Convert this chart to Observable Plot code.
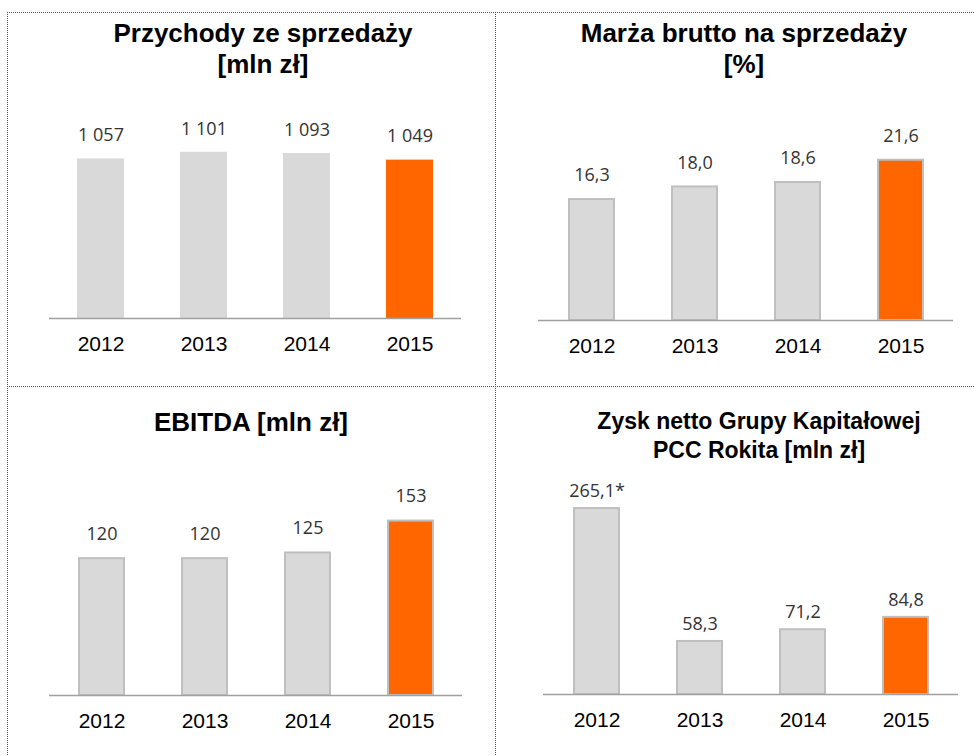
<!DOCTYPE html>
<html><head><meta charset="utf-8">
<script src="https://cdn.jsdelivr.net/npm/d3@7"></script>
<script src="https://cdn.jsdelivr.net/npm/@observablehq/plot@0.6"></script>
<style>
html,body{margin:0;padding:0;background:#fff;}
#root{position:relative;width:974px;height:755px;overflow:hidden;font-family:"Liberation Sans",Arial,sans-serif;}
.rule{position:absolute;}
.title{position:absolute;width:500px;text-align:center;font-weight:bold;color:#000;white-space:nowrap;}
.panel{position:absolute;}
</style></head><body><div id="root"></div>
<script>
// ---- data ----
const years = ["2012", "2013", "2014", "2015"];
const revenue = [1057, 1101, 1093, 1049];           // Przychody ze sprzedaży [mln zł]
const grossMargin = [16.3, 18.0, 18.6, 21.6];       // Marża brutto na sprzedaży [%]
const ebitda = [120, 120, 125, 153];                // EBITDA [mln zł]
const netProfit = [265.1, 58.3, 71.2, 84.8];        // Zysk netto GK PCC Rokita [mln zł]
const netProfitNotes = ["*", "", "", ""];
const highlightYear = "2015";
const titleRevenue = ["Przychody ze sprzedaży", "[mln zł]"];
const titleMargin = ["Marża brutto na sprzedaży", "[%]"];
const titleEbitda = ["EBITDA [mln zł]"];
const titleProfit = ["Zysk netto Grupy Kapitałowej", "PCC Rokita [mln zł]"];

const GRAY = "#d9d9d9", ORANGE = "#ff6600";
const pl = d3.formatLocale({decimal: ",", thousands: "\u00a0", grouping: [3], currency: ["", " zł"]});
const fmtInt = pl.format(",d");
const fmt1 = pl.format(".1f");

const root = document.getElementById("root");

function addRule(style) {
  const d = document.createElement("div");
  d.className = "rule";
  Object.assign(d.style, style);
  root.appendChild(d);
}
const dotted = "1px dotted #505050";
addRule({left: "7px", top: "12px", width: "967px", height: "0", borderTop: dotted});
addRule({left: "7px", top: "12px", width: "0", height: "743px", borderLeft: dotted});
addRule({left: "495px", top: "12px", width: "0", height: "743px", borderLeft: dotted});
addRule({left: "7px", top: "386px", width: "967px", height: "0", borderTop: dotted});

function addTitle(lines, {left, top, size, lineHeight}) {
  const d = document.createElement("div");
  d.className = "title";
  d.style.left = left + "px";
  d.style.top = top + "px";
  d.style.fontSize = size + "px";
  d.style.lineHeight = lineHeight + "px";
  d.innerHTML = lines.join("<br>");
  root.appendChild(d);
}

function panel(values, opts) {
  const {fmt, notes, left, top, width, height, marginLeft, marginRight, marginTop, marginBottom,
         y, pad, stroke, labelDy} = opts;
  const data = years.map((year, i) => ({
    year, value: values[i], label: fmt(values[i]) + (notes ? notes[i] : "")
  }));
  const chart = Plot.plot({
    width, height, marginLeft, marginRight, marginTop, marginBottom,
    style: {fontFamily: "'Liberation Sans', Arial, sans-serif", background: "transparent", color: "#000", overflow: "visible"},
    x: {domain: years, paddingInner: pad, paddingOuter: pad / 2},
    y: {...y, axis: null},
    color: {domain: years, range: years.map(yr => yr === highlightYear ? ORANGE : GRAY)},
    marks: [
      Plot.barY(data, {x: "year", y: "value", fill: "year",
        stroke: stroke || "none", strokeWidth: 2}),
      Plot.ruleY([0], {stroke: "#a0a0a0", strokeWidth: 1.5}),
      Plot.text(data, {x: "year", y: "value", text: "label", dy: labelDy,
        fontSize: 18, fill: "#333", fontFamily: "'Open Sans', sans-serif"}),
      Plot.axisX({tickSize: 0, tickPadding: 18, fontSize: 21, label: null})
    ]
  });
  const wrap = document.createElement("div");
  wrap.className = "panel";
  wrap.style.left = left + "px";
  wrap.style.top = top + "px";
  wrap.appendChild(chart);
  root.appendChild(wrap);
}

panel(revenue, {fmt: fmtInt, left: 0, top: 0, width: 490, height: 386,
  marginLeft: 49, marginRight: 29, marginTop: 100, marginBottom: 68,
  y: {domain: [0, 1444]}, pad: 0.544, labelDy: -23.5});

panel(grossMargin, {fmt: fmt1, left: 490, top: 0, width: 484, height: 386,
  marginLeft: 48, marginRight: 21, marginTop: 100, marginBottom: 66,
  y: {domain: [0, 29.65]}, pad: 0.566, stroke: "#bfbfbf", labelDy: -24});

panel(ebitda, {fmt: fmtInt, left: 0, top: 386, width: 490, height: 369,
  marginLeft: 49, marginRight: 28, marginTop: 100, marginBottom: 60,
  y: {domain: [0, 183.3]}, pad: 0.564, stroke: "#bfbfbf", labelDy: -24.5});

// the original chart compresses values above ~100 (broken-axis look for the 2012 outlier)
const compress = v => v <= 100 ? v : 100 + (v - 100) * 0.632;
panel(netProfit, {fmt: fmt1, notes: netProfitNotes, left: 490, top: 386, width: 484, height: 369,
  marginLeft: 53, marginRight: 16, marginTop: 100, marginBottom: 61,
  y: {type: "linear", transform: compress, domain: [0, 228.6]}, pad: 0.566, stroke: "#bfbfbf", labelDy: -17});

addTitle(titleRevenue, {left: 13, top: 18, size: 26, lineHeight: 31});
addTitle(titleMargin, {left: 494, top: 18, size: 26, lineHeight: 31});
addTitle(titleEbitda, {left: 1, top: 407, size: 26, lineHeight: 31});
addTitle(titleProfit, {left: 509, top: 407, size: 23, lineHeight: 28.5});
</script>
</body></html>
